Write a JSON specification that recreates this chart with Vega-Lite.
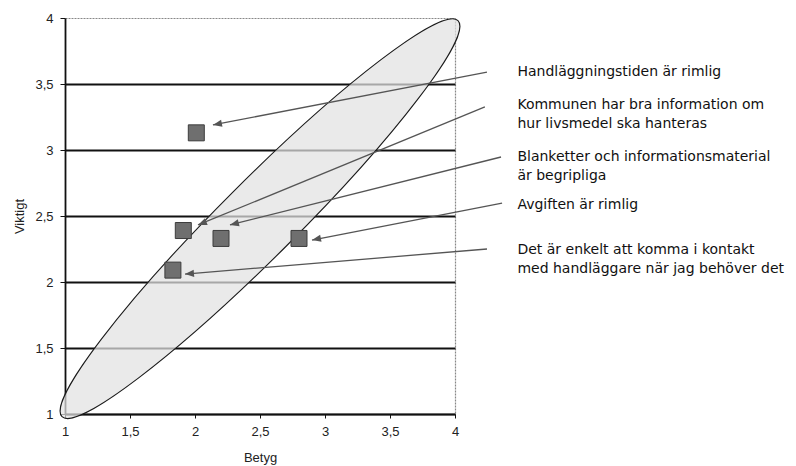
{
  "$schema": "https://vega.github.io/schema/vega-lite/v6.json",
  "width": 390,
  "height": 396,
  "autosize": "none",
  "padding": {"left": 65, "top": 18, "right": 341, "bottom": 52},
  "background": "white",
  "config": {
    "view": {"stroke": null},
    "axis": {"labelFont": "Liberation Sans", "titleFont": "Liberation Sans", "labelFontSize": 13, "titleFontSize": 13, "titleFontWeight": "normal", "labelColor": "#222", "titleColor": "#222", "domainColor": "#111", "tickColor": "#111"}
  },
  "datasets": {
    "items": [
      {"item": "Handläggningstiden är rimlig", "betyg": 2.01, "viktigt": 3.13},
      {"item": "Kommunen har bra information om hur livsmedel ska hanteras", "betyg": 1.91, "viktigt": 2.39},
      {"item": "Blanketter och informationsmaterial är begripliga", "betyg": 2.2, "viktigt": 2.33},
      {"item": "Avgiften är rimlig", "betyg": 2.8, "viktigt": 2.33},
      {"item": "Det är enkelt att komma i kontakt med handläggare när jag behöver det", "betyg": 1.83, "viktigt": 2.09}
    ],
    "arrows": [
      {"id": 1, "x0": 4.246, "y0": 3.59, "x1": 2.138, "y1": 3.19},
      {"id": 2, "x0": 4.23, "y0": 3.326, "x1": 2.023, "y1": 2.432},
      {"id": 3, "x0": 4.354, "y0": 2.947, "x1": 2.269, "y1": 2.432},
      {"id": 4, "x0": 4.362, "y0": 2.598, "x1": 2.9, "y1": 2.318},
      {"id": 5, "x0": 4.246, "y0": 2.25, "x1": 1.923, "y1": 2.06}
    ],
    "labels": [
      {"text": ["Handläggningstiden är rimlig"], "x": 4.48, "y": 3.59},
      {"text": ["Kommunen har bra information om", "hur livsmedel ska hanteras"], "x": 4.48, "y": 3.34},
      {"text": ["Blanketter och informationsmaterial", "är begripliga"], "x": 4.48, "y": 2.945},
      {"text": ["Avgiften är rimlig"], "x": 4.48, "y": 2.585},
      {"text": ["Det är enkelt att komma i kontakt", "med handläggare när jag behöver det"], "x": 4.48, "y": 2.245}
    ]
  },
  "layer": [
    {
      "data": {"values": [{"cx": 2.5, "cy": 2.48}]},
      "mark": {"type": "point", "shape": "M -1 0 A 1 0.1357 0 1 0 1 0 A 1 0.1357 0 1 0 -1 0 Z", "size": 313600, "angle": 315, "fill": "#e2e2e2", "fillOpacity": 0.72, "stroke": "#1a1a1a", "strokeWidth": 1.1, "opacity": 1},
      "encoding": {
        "x": {"field": "cx", "type": "quantitative", "scale": {"domain": [1, 4], "nice": false, "zero": false},
          "axis": {"title": "Betyg", "values": [1, 1.5, 2, 2.5, 3, 3.5, 4], "labelExpr": "replace(format(datum.value, '~g'), '.', ',')", "tickSize": 4, "labelPadding": 7, "titlePadding": 13, "domainWidth": 1.5, "grid": true, "gridColor": "#888", "gridDash": [2, 1], "gridWidth": 1.2, "gridOpacity": {"condition": {"test": "datum.value === 4", "value": 1}, "value": 0}, "labelFlush": false}},
        "y": {"field": "cy", "type": "quantitative", "scale": {"domain": [1, 4], "nice": false, "zero": false},
          "axis": {"title": "Viktigt", "values": [1, 1.5, 2, 2.5, 3, 3.5, 4], "labelExpr": "replace(format(datum.value, '~g'), '.', ',')", "tickSize": 5, "labelPadding": 7, "titlePadding": 8, "domainWidth": 1.8, "grid": true, "gridColor": {"condition": {"test": "datum.value === 4", "value": "#888"}, "value": "#111"}, "gridDash": {"condition": {"test": "datum.value === 4", "value": [2, 1]}, "value": []}, "gridWidth": {"condition": {"test": "datum.value === 4", "value": 1.2}, "value": 1.8}, "labelFlush": false}}
      }
    },
    {
      "data": {"name": "items"},
      "mark": {"type": "square", "size": 256, "fill": "#6f6f6f", "stroke": "#3c3c3c", "strokeWidth": 1, "opacity": 1, "filled": true},
      "encoding": {
        "x": {"field": "betyg", "type": "quantitative"},
        "y": {"field": "viktigt", "type": "quantitative"}
      }
    },
    {
      "data": {"name": "arrows"},
      "mark": {"type": "rule", "color": "#555", "strokeWidth": 1.3},
      "encoding": {
        "x": {"field": "x0", "type": "quantitative"},
        "y": {"field": "y0", "type": "quantitative"},
        "x2": {"field": "x1"},
        "y2": {"field": "y1"}
      }
    },
    {
      "data": {"name": "arrows"},
      "transform": [{"filter": "datum.id === 1"}],
      "mark": {"type": "point", "shape": "M 0 0 L 1 -0.4 L 1 0.4 Z", "size": 324, "angle": 349.1, "fill": "#555", "strokeWidth": 0, "opacity": 1},
      "encoding": {"x": {"field": "x1", "type": "quantitative"}, "y": {"field": "y1", "type": "quantitative"}}
    },
    {
      "data": {"name": "arrows"},
      "transform": [{"filter": "datum.id === 2"}],
      "mark": {"type": "point", "shape": "M 0 0 L 1 -0.4 L 1 0.4 Z", "size": 324, "angle": 337.7, "fill": "#555", "strokeWidth": 0, "opacity": 1},
      "encoding": {"x": {"field": "x1", "type": "quantitative"}, "y": {"field": "y1", "type": "quantitative"}}
    },
    {
      "data": {"name": "arrows"},
      "transform": [{"filter": "datum.id === 3"}],
      "mark": {"type": "point", "shape": "M 0 0 L 1 -0.4 L 1 0.4 Z", "size": 324, "angle": 346, "fill": "#555", "strokeWidth": 0, "opacity": 1},
      "encoding": {"x": {"field": "x1", "type": "quantitative"}, "y": {"field": "y1", "type": "quantitative"}}
    },
    {
      "data": {"name": "arrows"},
      "transform": [{"filter": "datum.id === 4"}],
      "mark": {"type": "point", "shape": "M 0 0 L 1 -0.4 L 1 0.4 Z", "size": 324, "angle": 349, "fill": "#555", "strokeWidth": 0, "opacity": 1},
      "encoding": {"x": {"field": "x1", "type": "quantitative"}, "y": {"field": "y1", "type": "quantitative"}}
    },
    {
      "data": {"name": "arrows"},
      "transform": [{"filter": "datum.id === 5"}],
      "mark": {"type": "point", "shape": "M 0 0 L 1 -0.4 L 1 0.4 Z", "size": 324, "angle": 355.3, "fill": "#555", "strokeWidth": 0, "opacity": 1},
      "encoding": {"x": {"field": "x1", "type": "quantitative"}, "y": {"field": "y1", "type": "quantitative"}}
    },
    {
      "data": {"name": "labels"},
      "mark": {"type": "text", "align": "left", "baseline": "middle", "font": "DejaVu Sans", "fontSize": 14, "lineHeight": 19, "color": "#111"},
      "encoding": {
        "x": {"field": "x", "type": "quantitative"},
        "y": {"field": "y", "type": "quantitative"},
        "text": {"field": "text"}
      }
    }
  ]
}
